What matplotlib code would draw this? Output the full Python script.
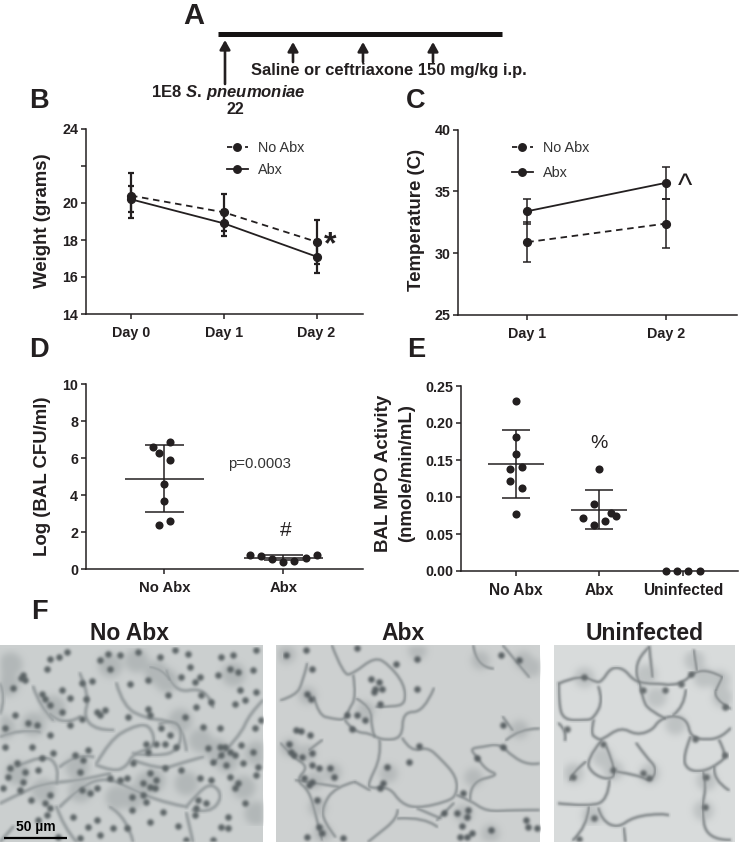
import numpy as np
import matplotlib
matplotlib.use("Agg")
import matplotlib.pyplot as plt
from matplotlib.colors import to_rgb
from matplotlib.lines import Line2D
from matplotlib.path import Path
from matplotlib.patches import PathPatch

plt.rcParams['font.family'] = ['Liberation Sans', 'DejaVu Sans']
plt.rcParams['mathtext.fontset'] = 'custom'
plt.rcParams['mathtext.it'] = 'Liberation Sans:italic:bold'
plt.rcParams['mathtext.rm'] = 'Liberation Sans:bold'

W, H = 739, 842
INK = '#231f20'

# ---- panel B
weight_days = ['Day 0', 'Day 1', 'Day 2']
weight_noabx = [20.4, 19.5, 17.9]
weight_noabx_sd = [1.2, 1.0, 1.2]
weight_abx = [20.2, 18.9, 17.1]
weight_abx_sd = [0.7, 0.7, 0.9]
weight_ticks = [14, 16, 18, 20, 22, 24]
weight_ticklabels = ['14', '16', '18', '20', '', '24']

# ---- panel C
temp_days = ['Day 1', 'Day 2']
temp_noabx = [30.9, 32.4]
temp_noabx_sd = [1.6, 2.0]
temp_abx = [33.4, 35.7]
temp_abx_sd = [1.0, 1.3]
temp_ticks = [25, 30, 35, 40]

# ---- panel D
cfu_groups = ['No Abx', 'Abx']
cfu_noabx = [6.6, 6.3, 6.9, 5.9, 4.6, 3.7, 2.4, 2.6]
cfu_noabx_slots = [-2, -1, 1, 1, 0, 0, -1, 1]
cfu_abx = [0.77, 0.74, 0.54, 0.41, 0.45, 0.61, 0.77]
cfu_abx_slots = [-3, -2, -1, 0, 1, 2, 3]
cfu_mean = [4.9, 0.63]
cfu_sd = [1.8, 0.13]
cfu_ticks = [0, 2, 4, 6, 8, 10]

# ---- panel E
mpo_groups = ['No Abx', 'Abx', 'Uninfected']
mpo_noabx = [0.23, 0.181, 0.158, 0.138, 0.14, 0.121, 0.112, 0.077]
mpo_noabx_slots = [0, 0, 0, -1, 1, -1, 1, 0]
mpo_abx = [0.138, 0.09, 0.078, 0.074, 0.072, 0.068, 0.062]
mpo_abx_slots = [0, -1, 2, 3, -3, 1, -1]
mpo_uninf = [0.0, 0.0, 0.0, 0.0]
mpo_uninf_slots = [-3, -1, 1, 3]
mpo_mean = [0.145, 0.083]
mpo_sd = [0.046, 0.026]
mpo_ticks = [0.0, 0.05, 0.10, 0.15, 0.20, 0.25]

# ---- panel F: micrograph features
noabx_nuclei = [(70,105),(62,112),(75,118),(40,142),(150,55),(178,50),(140,85),(200,35),(125,160),(135,175),(150,195),(185,215),(210,172),(258,175),(245,128),(275,122),(185,150),(45,225),(15,262),(85,248),(110,255),(150,285),(210,255),(245,235),(290,215),(315,210),(300,225),(95,322),(15,322),(125,355),(30,385),(50,370),(25,410),(75,395),(115,390),(160,340),(225,345),(250,360),(265,330),(240,395),(150,465),(135,490),(92,480),(150,505),(70,425),(60,450),(10,445),(325,40),(360,45),(415,35),(300,60),(330,85),(390,130),(445,120),(480,50),(525,30),(565,40),(570,80),(545,110),(585,125),(600,110),(665,50),(700,45),(690,85),(715,95),(655,105),(760,90),(770,30),(720,150),(735,180),(705,190),(770,155),(635,185),(605,165),(590,200),(505,165),(450,225),(445,205),(385,230),(555,230),(485,262),(510,285),(495,310),(470,310),(440,310),(445,335),(530,320),(610,260),(660,262),(765,262),(785,240),(625,325),(660,320),(675,320),(690,335),(665,345),(705,345),(725,315),(760,335),(775,380),(730,370),(680,375),(640,365),(690,410),(715,430),(705,445),(770,405),(635,420),(600,415),(545,390),(495,385),(450,400),(400,370),(380,415),(360,420),(430,430),(450,440),(470,420),(465,445),(430,465),(395,470),(330,415),(290,445),(270,460),(245,450),(395,510),(440,485),(450,545),(490,515),(535,558),(595,480),(620,490),(590,505),(585,525),(685,530),(665,560),(685,565),(735,490),(380,565),(340,565),(265,560),(220,530),(290,540),(300,585),(140,525),(115,540),(640,600),(560,600),(175,590),(240,595)]
noabx_walls = [[(0,290),(60,265),(120,275)],[(150,220),(190,260),(240,230)],[(290,370),(330,300),(395,260),(450,250),(470,320),(400,340),(380,380),(340,395),(290,375)],[(0,490),(60,460),(130,430),(250,420),(330,400)],[(180,500),(240,440),(320,410),(400,450),(500,490),(560,500)],[(560,500),(600,450),(640,430),(670,470),(630,520),(580,510)],[(350,130),(370,200),(440,235),(500,240),(550,260),(560,330)],[(480,250),(510,240),(545,255),(540,330),(470,350),(400,340)],[(240,100),(270,170),(250,230),(290,270),(340,270)],[(100,140),(120,200),(160,240)],[(500,90),(520,160),(620,140),(640,200)],[(450,80),(490,85),(510,120)],[(0,130),(20,170),(0,220)],[(640,370),(720,290),(750,220),(790,180)],[(400,360),(480,390),(540,370),(610,350)],[(180,380),(230,340),(280,350)],[(50,380),(130,340),(180,380),(170,430)],[(0,606),(40,560)],[(170,500),(190,560),(230,606)],[(560,520),(580,606)],[(330,500),(380,530),(400,606)]]
noabx_stroma = [(470,95),(500,120),(330,75),(440,430),(460,420),(160,200),(20,130),(10,260),(240,450),(350,470),(650,330),(770,340),(730,440),(130,450),(50,400),(30,70),(395,470),(600,300),(540,240),(770,520),(230,380),(410,60),(700,100),(100,250),(560,430),(680,360)]
abx_nuclei = [(290,115),(312,125),(322,145),(298,155),(300,145),(428,55),(428,145),(365,70),(110,85),(95,160),(105,175),(215,225),(245,225),(270,238),(315,190),(230,265),(60,268),(75,272),(102,285),(40,310),(45,335),(55,345),(110,340),(80,350),(110,375),(130,385),(85,415),(110,425),(100,435),(125,480),(165,385),(175,410),(338,380),(405,365),(435,318),(325,430),(315,445),(610,355),(690,255),(690,320),(740,60),(685,45),(570,460),(550,520),(585,510),(580,530),(565,558),(595,580),(560,590),(580,590),(510,518),(760,540),(765,560),(795,565),(655,570),(130,560),(140,580),(95,590),(205,595),(245,22),(90,28),(30,45)]
abx_walls = [[(170,15),(205,105),(235,100),(300,50),(340,70),(390,130),(395,190),(355,200),(305,200)],[(95,70),(80,130),(60,165),(15,180)],[(235,105),(245,170),(220,210),(210,240),(170,235),(130,225),(115,170)],[(245,175),(290,200),(290,265),(300,290)],[(210,240),(235,275),(290,280),(320,300),(385,295),(385,215),(450,215),(480,145)],[(385,295),(410,335),(460,320),(500,355),(550,410),(550,465),(520,485),(430,505),(380,490),(345,440),(285,445),(280,430),(320,350),(315,300)],[(240,425),(180,440),(140,500),(145,545),(180,590)],[(240,425),(285,450)],[(370,510),(370,535),(300,590),(280,606)],[(370,535),(450,530),(490,560)],[(550,465),(590,480),(640,515),(720,510),(800,510)],[(590,480),(590,425),(680,405),(640,390),(610,350),(590,325),(630,320),(680,310),(720,350),(770,375),(800,370)],[(700,300),(740,265),(800,265)],[(690,230),(720,270)],[(15,310),(50,350),(100,380),(60,420),(100,450),(120,520),(140,600)],[(60,420),(190,440)],[(600,15),(610,80),(660,85)],[(690,15),(770,110)],[(430,505),(500,535)],[(490,540),(540,490)],[(140,300),(100,330)]]
abx_stroma = [(95,165),(40,320),(90,340),(170,395),(115,420),(125,500),(140,580),(570,520),(740,265),(620,60),(750,60),(30,40),(430,30),(270,210),(340,400),(600,410),(650,580),(780,80)]
uninf_nuclei = [(95,110),(40,265),(60,410),(155,310),(185,390),(280,400),(300,415),(280,150),(350,150),(400,130),(430,100),(480,410),(475,500),(445,295),(540,345),(540,200),(80,597),(125,535)]
uninf_walls = [[(15,130),(50,115),(100,110),(130,125),(150,125),(180,80),(220,85),(250,120),(290,130),(330,130),(370,135),(410,125),(440,95),(490,90),(530,110)],[(15,130),(15,190),(30,240),(100,240),(125,235),(155,180),(140,140)],[(125,240),(115,280),(135,295),(150,300),(210,260),(260,285),(310,270),(330,240),(375,225),(420,240),(430,290),(480,300),(530,290),(555,265)],[(15,250),(40,270),(35,300)],[(150,300),(100,360),(120,400),(170,420),(200,400),(165,320)],[(100,365),(60,395),(50,420)],[(175,420),(170,480),(110,500),(15,490)],[(140,505),(150,540),(200,565),(250,530),(340,520),(360,525)],[(110,500),(105,560),(60,600)],[(220,565),(225,606)],[(200,395),(265,405),(305,425),(325,385),(290,350),(260,310)],[(430,290),(405,350),(420,390),(470,395),(520,370),(545,345),(520,300)],[(470,395),(480,440),(465,500),(480,600),(555,600)],[(505,380),(500,420),(550,450)],[(270,130),(280,180),(300,210),(350,235)],[(415,150),(410,200),(375,225)],[(300,20),(240,70),(270,130)],[(300,20),(310,110)],[(440,30),(450,90)],[(510,150),(500,175),(555,205)],[(530,110),(510,150)]]
uninf_stroma = [(95,110),(290,100),(320,170),(380,250),(470,110),(520,120),(300,400),(150,350),(185,390),(480,420),(470,510),(60,400),(120,525),(530,170),(440,60)]

fig = plt.figure(figsize=(W / 100, H / 100), dpi=100, facecolor='white')


def axes_px(left, right, top, bottom):
    return fig.add_axes([left / W, 1 - bottom / H, (right - left) / W, (bottom - top) / H])


def style(ax, ticks, ticklabels=None, xsize=10.3):
    for s in ('top', 'right'):
        ax.spines[s].set_visible(False)
    for s in ('left', 'bottom'):
        ax.spines[s].set_linewidth(1.1)
        ax.spines[s].set_color(INK)
    ax.set_yticks(ticks)
    if ticklabels is not None:
        ax.set_yticklabels(ticklabels)
    ax.tick_params(length=3.8, width=1.1, color=INK, labelcolor=INK, labelsize=10.3, pad=1.5)
    ax.tick_params(axis='x', pad=4.5, labelsize=xsize)
    for t in ax.get_xticklabels() + ax.get_yticklabels():
        t.set_fontweight('bold')
    ax.patch.set_alpha(0)


def ylabel_px(ax, text, xpx, ypx, size=13.4):
    x0, y0 = ax.transAxes.transform((0, 0))
    x1, y1 = ax.transAxes.transform((1, 1))
    ax.set_ylabel(text, fontsize=size, fontweight='bold', color=INK, linespacing=1.5)
    ax.yaxis.set_label_coords((xpx - x0) / (x1 - x0), ((H - ypx) - y0) / (y1 - y0))


def lines_panel(ax, days, noabx, noabx_sd, abx, abx_sd, elw, cap, legend_px, spacing):
    xs = np.arange(len(days))
    ax.errorbar(xs, noabx, yerr=noabx_sd, fmt='o', ls='--', color=INK, ms=5.6, lw=1.3,
                elinewidth=elw, capsize=cap, capthick=elw, dashes=(3.6, 2.6), label='No Abx')
    ax.errorbar(xs, abx, yerr=abx_sd, fmt='o', ls='-', color=INK, ms=5.6, lw=1.3,
                elinewidth=elw, capsize=cap, capthick=elw, label='Abx')
    ax.set_xticks(xs)
    ax.set_xticklabels(days)
    handles = [Line2D([], [], color=INK, ls=(0, (2.9, 2.1)), lw=1.3, marker='o', ms=5.4),
               Line2D([], [], color=INK, ls='-', lw=1.3, marker='o', ms=5.4)]
    lx, ly = legend_px
    fig.legend(handles, ['No Abx', 'Abx'], loc='upper left', frameon=False, fontsize=10.4,
               bbox_to_anchor=(lx / W, 1 - ly / H), borderaxespad=0, borderpad=0,
               handlelength=1.42, handletextpad=0.72, labelspacing=spacing, labelcolor='#333333')


# ---- B
axB = axes_px(85.5, 363, 129, 314)
axB.set_xlim(-0.49, 2.5)
axB.set_ylim(14, 24)
lines_panel(axB, weight_days, weight_noabx, weight_noabx_sd, weight_abx, weight_abx_sd, 1.6, 2.5, (227, 141), 0.58)
style(axB, weight_ticks, weight_ticklabels)
ylabel_px(axB, 'Weight (grams)', 51, 221)
axB.text(2.15, 17.7, '*', fontsize=23, fontweight='bold', color=INK, ha='center', va='center')

# ---- C
axC = axes_px(458.3, 736.7, 129.7, 315)
axC.set_xlim(-0.4975, 1.51)
axC.set_ylim(25, 40)
lines_panel(axC, temp_days, temp_noabx, temp_noabx_sd, temp_abx, temp_abx_sd, 1.1, 2.6, (512, 141), 0.79)
style(axC, temp_ticks)
ylabel_px(axC, 'Temperature (C)', 425, 220)
axC.text(1.135, 35.4, '^', fontsize=22, color=INK, ha='center', va='center')


def scatter_panel(ax, pos, values, slots, step):
    ax.scatter(pos + np.array(slots) * step, values, s=34, color=INK, zorder=3, clip_on=False, linewidths=0)


def summary(ax, pos, mean, sd, wide, narrow, lw):
    ax.hlines(mean, pos - wide, pos + wide, color=INK, lw=lw, zorder=2)
    ax.vlines(pos, mean - sd, mean + sd, color=INK, lw=lw, zorder=2)
    ax.hlines([mean - sd, mean + sd], pos - narrow, pos + narrow, color=INK, lw=lw, zorder=2)


# ---- D
axD = axes_px(85.5, 363, 384.3, 569.3)
axD.set_xlim(-0.662, 1.67)
axD.set_ylim(0, 10)
scatter_panel(axD, 0, cfu_noabx, cfu_noabx_slots, 0.047)
scatter_panel(axD, 1, cfu_abx, cfu_abx_slots, 0.0935)
for i in range(2):
    summary(axD, i, cfu_mean[i], cfu_sd[i], 0.332, 0.166, 1.1)
axD.set_xticks([0, 1])
axD.set_xticklabels(cfu_groups)
style(axD, cfu_ticks, xsize=10.7)
ylabel_px(axD, 'Log (BAL CFU/ml)', 51, 476)
axD.text(0.80, 5.69, 'p=0.0003', fontsize=10.7, color='#333333', ha='center', va='center')
axD.text(1.02, 2.1, '#', fontsize=15, color=INK, ha='center', va='center')

# ---- E
axE = axes_px(460.7, 738.3, 386, 571)
axE.set_xlim(-0.663, 2.665)
axE.set_ylim(0, 0.25)
scatter_panel(axE, 0, mpo_noabx, mpo_noabx_slots, 0.0667)
scatter_panel(axE, 1, mpo_abx, mpo_abx_slots, 0.0667)
scatter_panel(axE, 2, mpo_uninf, mpo_uninf_slots, 0.0667)
for i in range(2):
    summary(axE, i, mpo_mean[i], mpo_sd[i], 0.336, 0.168, 1.1)
axE.set_xticks([0, 1, 2])
axE.set_xticklabels(mpo_groups)
style(axE, mpo_ticks, ['0.00', '0.05', '0.10', '0.15', '0.20', '0.25'], xsize=11.2)
ylabel_px(axE, 'BAL MPO Activity\n(nmole/min/mL)', 415, 473)
axE.text(1.0, 0.1725, '%', fontsize=14, color=INK, ha='center', va='center')


# ---- F micrographs
SOFT = (0.06, 0.24, 0.4, 0.24, 0.06)
SOFTER = (0.02, 0.05, 0.09, 0.14, 0.16, 0.16, 0.16, 0.14, 0.09, 0.05, 0.02)


def make_blur(kernel, colour, strength=1.0):
    # blur coverage only, keeping the ink colour, so no dark fringes appear
    k = np.array(kernel) / np.sum(kernel)
    half = len(k) // 2
    rgb = to_rgb(colour)

    def conv(m):
        return np.convolve(m, k, mode='full')[half:half + len(m)]

    def _blur(image, dpi):
        a = image[..., 3]
        for axis in (0, 1):
            a = np.apply_along_axis(conv, axis, a)
        out = np.empty_like(image)
        out[..., 0], out[..., 1], out[..., 2] = rgb
        out[..., 3] = np.clip(a * strength, 0, 1)
        return out, 0, 0
    return _blur


def smooth_path(pts):
    # quadratic B-spline through the midpoints of the hand-read polyline
    verts = [pts[0]]
    codes = [Path.MOVETO]
    for i in range(1, len(pts) - 1):
        mx = (pts[i][0] + pts[i + 1][0]) / 2
        my = (pts[i][1] + pts[i + 1][1]) / 2
        verts += [pts[i], (mx, my) if i < len(pts) - 2 else pts[-1]]
        codes += [Path.CURVE3, Path.CURVE3]
    if len(pts) == 2:
        verts.append(pts[1])
        codes.append(Path.LINETO)
    return Path(verts, codes)


def micrograph(left, right, zw, bg, walls, nuclei, stroma, wall_c, halo_c, nuc_c, nuc_s, halo_w, wall_w, st_c, st_s):
    ax = axes_px(left, right, 645, 842)
    ax.set_xlim(0, zw)
    ax.set_ylim(606, 14)
    ax.set_xticks([])
    ax.set_yticks([])
    for s in ax.spines.values():
        s.set_visible(False)
    ax.set_facecolor(bg)
    sx, sy = zip(*stroma)
    ax.scatter(sx, sy, s=st_s, color=st_c, linewidths=0, agg_filter=make_blur(SOFTER, st_c, 0.8))
    for w in walls:
        ax.add_patch(PathPatch(smooth_path(w), fill=False, ec=halo_c, lw=halo_w, joinstyle='round',
                               capstyle='round', agg_filter=make_blur(SOFT, halo_c)))
    for w in walls:
        ax.add_patch(PathPatch(smooth_path(w), fill=False, ec=wall_c, lw=wall_w, joinstyle='round',
                               capstyle='round', agg_filter=make_blur(SOFT, wall_c)))
    nx, ny = zip(*nuclei)
    ax.scatter(nx, ny, s=nuc_s, color=nuc_c, linewidths=0, agg_filter=make_blur(SOFT, nuc_c), zorder=4)
    return ax


ax1 = micrograph(0, 263, 790, '#cbcfcf', noabx_walls, noabx_nuclei, noabx_stroma, '#8d9496', '#b3b8b9', '#5a6264', 22, 3.4, 1.0, '#a4aaab', 300)
ax2 = micrograph(276, 540, 803, '#cdd0d0', abx_walls, abx_nuclei, abx_stroma, '#7b8284', '#b5b9ba', '#565d60', 22, 2.8, 0.9, '#a9aeaf', 180)
ax3 = micrograph(554, 735, 570, '#d8dbdb', uninf_walls, uninf_nuclei, uninf_stroma, '#6f7577', '#bcc0c1', '#62686a', 22, 3.2, 1.0, '#b0b5b6', 220)
ax1.plot([12, 200], [594, 594], color='black', lw=1.6, solid_capstyle='butt', zorder=6)
ax1.text(108, 561, '50 µm', fontsize=10, color='black', ha='center', va='center', fontweight='bold',
         fontstretch='condensed', zorder=6)

# ---- overlay: panel letters, scheme A, titles
ov = fig.add_axes([0, 0, 1, 1], zorder=10)
ov.set_xlim(0, W)
ov.set_ylim(H, 0)
ov.axis('off')
letters = {'A': (194, 16, 21), 'B': (39, 101, 19.5), 'C': (416, 101, 19.5),
           'D': (39, 350, 19.5), 'E': (416, 350, 19.5), 'F': (39, 612, 19.5)}
for k, (x, y, fs) in letters.items():
    ov.text(x, y, k, fontsize=fs, fontweight='bold', color=INK, ha='center', va='center')

ov.plot([218, 502], [34.3, 34.3], color='#151313', lw=3.6, solid_capstyle='butt')
for x, y0, y1 in [(225, 84, 40), (293, 62, 42), (363, 62, 42), (433, 62, 42)]:
    ov.annotate('', xy=(x, y1), xytext=(x, y0),
                arrowprops=dict(arrowstyle='-|>,head_width=0.28,head_length=0.5', color=INK, lw=1.9,
                                mutation_scale=11, shrinkA=0, shrinkB=0))
ov.text(389, 70, 'Saline or ceftriaxone 150 mg/kg i.p.', fontsize=11.9, fontweight='bold', color=INK,
        ha='center', va='center')
ov.text(228, 93, '1E8 $\\mathit{S.\\,pneumoniae}$', fontsize=12, fontweight='bold', color=INK,
        ha='center', va='center')
ov.text(235, 109, '22', fontsize=11.5, fontweight='bold', color=INK, ha='center', va='center')

for t, x in [('No Abx', 129), ('Abx', 403), ('Uninfected', 645)]:
    ov.text(x, 633, t, fontsize=16.5, fontweight='bold', color=INK, ha='center', va='center')

fig.savefig('out.png', dpi=100)
